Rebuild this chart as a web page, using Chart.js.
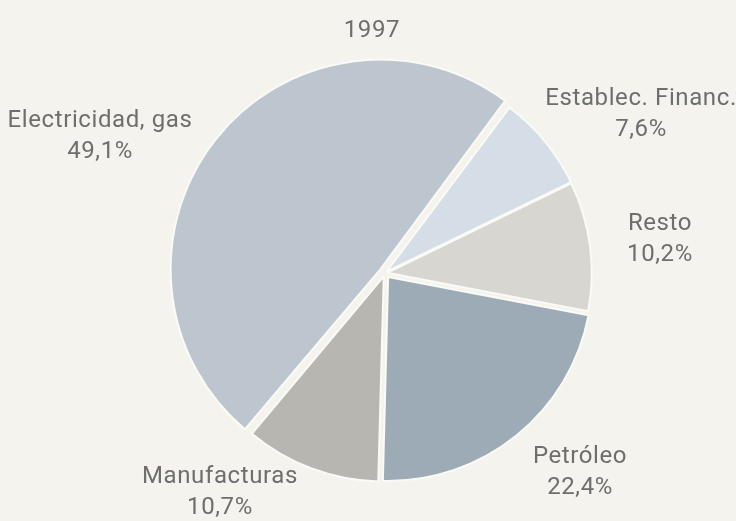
<!DOCTYPE html>
<html>
<head>
<meta charset="utf-8">
<title>1997</title>
<script src="https://cdn.jsdelivr.net/npm/chart.js@4"></script>
<style>
  html, body { margin: 0; padding: 0; background: #f4f3ed; }
  #chart { display: block; }
</style>
</head>
<body>
<canvas id="chart" width="736" height="521"></canvas>
<script>
'use strict';

// data
let chartTitle = '1997';
let sectors = ['Electricidad, gas', 'Establec. Financ.', 'Resto', 'Petróleo', 'Manufacturas'];
let shares = [49.1, 7.6, 10.2, 22.4, 10.7];
let shareLabels = ['49,1%', '7,6%', '10,2%', '22,4%', '10,7%'];

// look
let sliceColors = ['#bdc6cf', '#d5dee6', '#d8d6d1', '#9dabb6', '#b8b6b1'];
// chart.js moves an arc by offset / 4 px
let sliceOffsets = [24, 8, 8, 20, 14];
let textColor = '#6e6e6e';
let labelFont = '24px Roboto, "Liberation Sans", sans-serif';

// where each label sits, in pie radii from the centre (x, first baseline)
let labelSpots = [
    [-1.397, -0.715],
    [1.255, -0.824],
    [1.348, -0.211],
    [0.956, 0.931],
    [-0.809, 1.029]
];
let titleSpot = [-0.064, -1.157];
let lineGap = 31;

// draws the title and the sector labels around the pie
let pieLabels = {
    id: 'pieLabels',
    afterDraw: function (chart) {
        let ctx = chart.ctx;
        let arc = chart.getDatasetMeta(0).data[0];
        let cx = arc.x;
        let cy = arc.y;
        let r = arc.outerRadius;
        ctx.save();
        ctx.fillStyle = textColor;
        ctx.font = labelFont;
        ctx.textAlign = 'center';
        ctx.textBaseline = 'alphabetic';
        if ('letterSpacing' in ctx) {
            ctx.letterSpacing = '0.6px';
        }
        ctx.fillText(chartTitle, cx + titleSpot[0] * r, cy + titleSpot[1] * r);
        for (let i = 0; i < sectors.length; i++) {
            let x = cx + labelSpots[i][0] * r;
            let y = cy + labelSpots[i][1] * r;
            ctx.fillText(sectors[i], x, y);
            ctx.fillText(shareLabels[i], x, y + lineGap);
        }
        ctx.restore();
    }
};

let createChart = document.getElementById('chart').getContext('2d');

let myChart = new Chart(createChart, {
    type: 'pie',
    data: {
        labels: sectors,
        datasets: [{
            data: shares,
            backgroundColor: sliceColors,
            borderColor: '#fafaf6',
            borderWidth: 2,
            offset: sliceOffsets
        }]
    },
    options: {
        responsive: false,
        animation: false,
        rotation: 220,
        radius: 204,
        layout: {
            padding: { left: 34, right: 0, top: 25, bottom: 0 }
        },
        plugins: {
            legend: { display: false },
            tooltip: { enabled: false },
            title: { display: false }
        }
    },
    plugins: [pieLabels]
});
</script>
</body>
</html>
